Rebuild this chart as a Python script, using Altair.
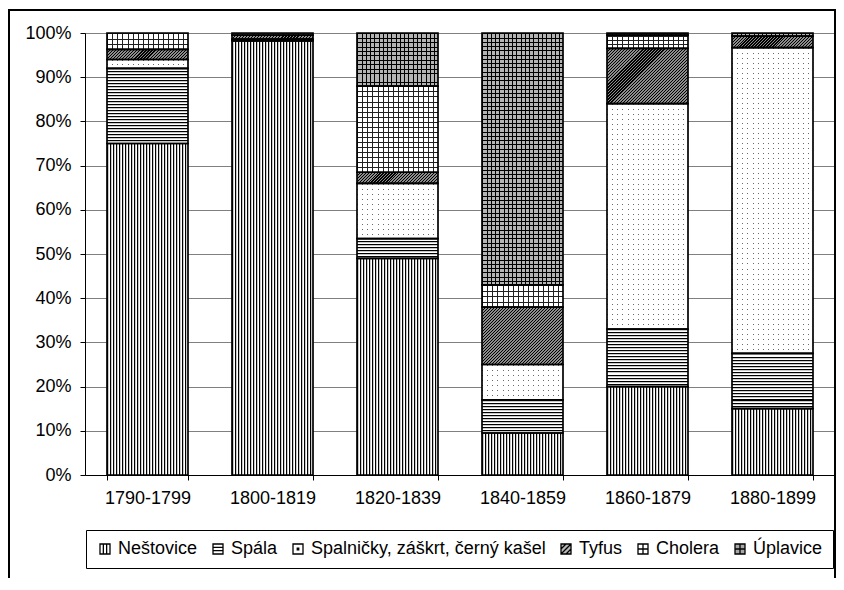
import altair as alt
import pandas as pd

# ---- data (percent shares) ----
periods = ["1790-1799", "1800-1819", "1820-1839", "1840-1859", "1860-1879", "1880-1899"]
categories = ["Neštovice", "Spála", "Spalničky, záškrt, černý kašel", "Tyfus", "Cholera", "Úplavice"]
nestovice = [75.0, 98.2, 49.0, 9.5, 20.0, 15.0]
spala = [17.0, 0.2, 4.5, 7.5, 13.0, 12.5]
spalnicky = [2.0, 0.2, 12.5, 8.0, 51.0, 69.2]
tyfus = [2.3, 0.9, 2.5, 13.0, 12.5, 2.6]
cholera = [3.7, 0.5, 19.5, 5.0, 3.0, 0.0]
uplavice = [0.0, 0.0, 12.0, 57.0, 0.5, 0.7]
series = [nestovice, spala, spalnicky, tyfus, cholera, uplavice]

rows = []
for j, (cat, vals) in enumerate(zip(categories, series)):
    for p, v in zip(periods, vals):
        rows.append({"period": p, "cat": cat, "value": v, "order": j})
df = pd.DataFrame(rows)

# ---- styling constants ----
PLOT_W, PLOT_H = 750, 442
PAD_INNER = 0.352
BAR_W = PLOT_W / 6 * (1 - PAD_INNER)
PX_PER_PCT = PLOT_H / 100.0
FONT = "Liberation Sans"
CLEAR = "rgba(0,0,0,0)"


def stripes(n, segs, x2=1.0, y2=0.0):
    """Hard-stop linear gradient repeating the (colour, fraction) segments n times."""
    n = max(1, int(n))
    stops = []
    for k in range(n):
        pos = 0.0
        for color, frac in segs:
            a = round((k + pos) / n, 5)
            pos = min(1.0, pos + frac)
            b = round((k + pos) / n, 5)
            stops += [{"offset": a, "color": color}, {"offset": b, "color": color}]
    return {"gradient": "linear", "x1": 0, "y1": 0, "x2": x2, "y2": y2, "stops": stops}


def line_segs(period, line, bg, line_px=1.0, lead_px=0.3):
    lead = lead_px / period
    w = line_px / period
    return [(bg, lead), (line, w), (bg, 1 - lead - w)]


def vlines(n, line, bg):
    return stripes(n, line_segs(BAR_W / n, line, bg), 1.0, 0.0)


def hlines(h, period, line, bg):
    n = max(1, round(h / period))
    return stripes(n, line_segs(h / n, line, bg), 0.0, 1.0)


def diag(h, period, segs):
    # 45-degree hatch; period measured along x (+y)
    k = h / BAR_W
    a = (1 + k) / (1 + k * k)
    b = k * a
    return stripes(max(1, round((BAR_W + h) / period)), segs, round(a, 5), round(b, 5))


X = alt.X("period:N", sort=periods, title=None,
          scale=alt.Scale(paddingInner=PAD_INNER, paddingOuter=PAD_INNER / 2),
          axis=alt.Axis(labelAngle=0, tickBand="extent", tickSize=5, labelPadding=9,
                        grid=False, domainColor="black", tickColor="black"))
yscale = alt.Scale(domain=[0, 100], nice=False)
yaxis = alt.Axis(values=list(range(0, 101, 10)), labelExpr="datum.value + '%'",
                 tickSize=5, labelPadding=9, grid=True, gridColor="#808080",
                 domainColor="black", tickColor="black")
Y = alt.Y("y0:Q", scale=yscale, axis=yaxis, title=None)
Y2 = alt.Y2("y1:Q")

base = (alt.Chart(df)
        .transform_filter("datum.value > 0")
        .transform_stack(stack="value", groupby=["period"], as_=["y0", "y1"],
                         sort=[alt.SortField("order", "ascending")]))


def cat_layer(cat, fill):
    return base.transform_filter(alt.datum.cat == cat).mark_bar(fill=fill).encode(x=X, y=Y, y2=Y2)


def seg_layers(cat, vals, make):
    out = []
    for p, v in zip(periods, vals):
        if v <= 0:
            continue
        g = make(v * PX_PER_PCT)
        out.append(base.transform_filter((alt.datum.cat == cat) & (alt.datum.period == p))
                   .mark_bar(fill=g).encode(x=X, y=Y, y2=Y2))
    return out


# ---- legend helper layer (hidden points carry colour + shape for the legend) ----
legend = alt.Legend(title=None, orient="none", legendX=1, legendY=497, direction="horizontal",
                    columns=6, symbolSize=100, labelFont=FONT, labelFontSize=18, labelColor="black",
                    labelOffset=4, columnPadding=11, padding=10, strokeColor="black",
                    fillColor="white", symbolStrokeWidth=1.3, symbolOpacity=1, labelLimit=400)
box = "M-1,-1H1V1H-1Z"
shapes = [box + "M-0.33,-1V1M0.33,-1V1",
          box + "M-1,-0.33H1M-1,0.33H1",
          box + "M-0.15,-0.15H0.15V0.15H-0.15Z",
          box + "M-1,0L0,-1M-1,1L1,-1M0,1L1,0",
          box + "M0,-1V1M-1,0H1",
          box + "M0,-1V1M-1,0H1"]
legend_fills = ["white", "white", "white", "#b8b8b8", "white", "#a8a8a8"]

points = (base.transform_calculate(mid="(datum.y0 + datum.y1) / 2")
          .mark_point(filled=True, opacity=0, size=100, stroke="black", strokeWidth=1.3)
          .encode(x=X, y=alt.Y("mid:Q", scale=yscale, axis=yaxis, title=None),
                  color=alt.Color("cat:N", scale=alt.Scale(domain=categories, range=legend_fills), legend=legend),
                  shape=alt.Shape("cat:N", scale=alt.Scale(domain=categories, range=shapes), legend=legend)))

third = 1 / 3
layers = [points]
# Neštovice: vertical lines (3 px period)
layers.append(cat_layer(categories[0], stripes(27, [("black", third), ("#c8c8c8", third), ("white", third)])))
# Spála: horizontal lines
layers += seg_layers(categories[1], spala,
                     lambda h: stripes(max(1, round(h / 3)), [("black", third), ("#c8c8c8", third), ("white", third)], 0.0, 1.0))
# Spalničky...: sparse dots (grey rows masked by white columns)
layers += seg_layers(categories[2], spalnicky, lambda h: hlines(h, 5, "#6a6a6a", "white"))
layers.append(cat_layer(categories[2], vlines(16, CLEAR, "white")))
# Tyfus: dense diagonal hatch
layers += seg_layers(categories[3], tyfus,
                     lambda h: diag(h, 3, [("black", 0.4), ("#8c8c8c", 0.6)]))
# Cholera: open grid on white
layers.append(cat_layer(categories[4], vlines(16, "#202020", "white")))
layers += seg_layers(categories[4], cholera, lambda h: hlines(h, 5, "#202020", CLEAR))
# Úplavice: fine grid on grey
layers.append(cat_layer(categories[5], vlines(19, "black", "#b4b4b4")))
layers += seg_layers(categories[5], uplavice, lambda h: hlines(h, 4.3, "black", CLEAR))
# outlines of every segment
layers.append(base.mark_bar(fill="white", fillOpacity=0, stroke="black", strokeWidth=1.7)
              .encode(x=X, y=Y, y2=Y2))
# chart-area frame
frame = (alt.Chart(alt.Data(values=[{"f": 1}]))
         .mark_rect(fill="white", fillOpacity=0, stroke="black", strokeWidth=2)
         .encode(x=alt.value(-76), x2=alt.value(750), y=alt.value(-23), y2=alt.value(580)))
layers.append(frame)

chart = (alt.layer(*layers)
         .properties(width=PLOT_W, height=PLOT_H,
                     autosize=alt.AutoSizeParams(type="none"),
                     padding={"left": 77, "top": 25, "right": 1, "bottom": 103})
         .configure(font=FONT)
         .configure_view(stroke="#808080", strokeWidth=1)
         .configure_axis(labelFont=FONT, labelFontSize=18, labelColor="black")
         .configure_legend(symbolOpacity=1))

chart.save("out.html", embed_options={"renderer": "svg", "actions": False})
